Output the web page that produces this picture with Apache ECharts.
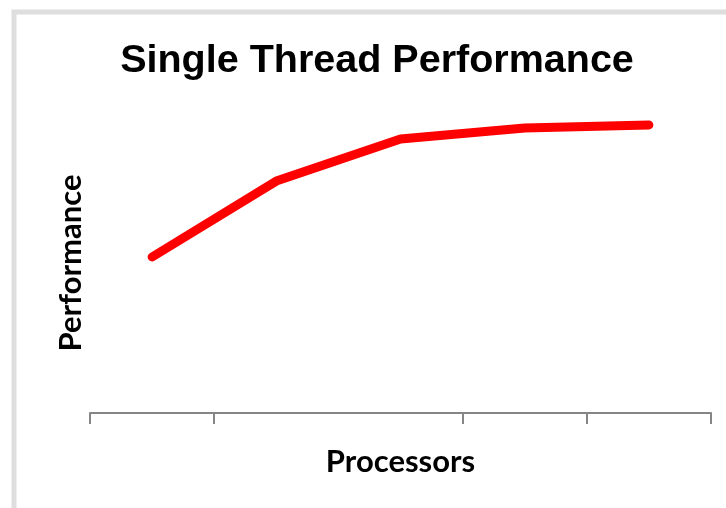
<!DOCTYPE html>
<html>
<head>
<meta charset="utf-8">
<script src="https://cdn.jsdelivr.net/npm/echarts@6/dist/echarts.min.js"></script>
<style>
html,body{margin:0;padding:0;background:#fff;}
#chart{width:726px;height:508px;}
</style>
</head>
<body>
<div id="chart"></div>
<script>
var categories = ['1', '2', '3', '4', '5'];
var performance = [52, 77.3, 91.3, 95, 96];
var tickPositions = [0, 1, 3, 4, 5];
var titleText = 'Single Thread Performance';
var xName = 'Processors';
var yName = 'Performance';

var seriesData = performance.map(function (v, i) { return [i + 0.5, v, categories[i]]; });

var chart = echarts.init(document.getElementById('chart'));
chart.setOption({
  animation: false,
  backgroundColor: '#ffffff',
  graphic: [{
    type: 'rect',
    shape: { x: 14, y: 12, width: 800, height: 600 },
    style: { fill: 'none', stroke: '#dedede', lineWidth: 5 },
    silent: true
  }],
  title: {
    text: titleText,
    left: 372,
    textAlign: 'center',
    top: 36,
    textStyle: { fontFamily: 'Liberation Sans', fontWeight: 'bold', fontSize: 39.5, color: '#000' }
  },
  grid: { left: 90, right: 15, top: 113, bottom: 95 },
  xAxis: {
    type: 'value',
    min: 0,
    max: categories.length,
    interval: 1,
    name: xName,
    nameLocation: 'middle',
    nameGap: 33,
    nameTextStyle: { fontFamily: 'Lato', fontWeight: 'bold', fontSize: 31, color: '#000' },
    axisLine: { show: true, lineStyle: { color: '#868686', width: 2 } },
    axisTick: {
      show: true,
      length: 11,
      customValues: tickPositions,
      lineStyle: { color: '#868686', width: 2 }
    },
    axisLabel: { show: false },
    splitLine: { show: false }
  },
  yAxis: {
    type: 'value',
    min: 0,
    max: 100,
    name: yName,
    nameLocation: 'middle',
    nameGap: 4,
    nameTextStyle: { fontFamily: 'Lato', fontWeight: 'bold', fontSize: 31, color: '#000' },
    axisLine: { show: false },
    axisTick: { show: false },
    axisLabel: { show: false },
    splitLine: { show: false }
  },
  series: [{
    type: 'line',
    data: seriesData,
    showSymbol: false,
    symbol: 'none',
    lineStyle: { color: '#ff0000', width: 9, cap: 'round', join: 'round' }
  }]
});
</script>
</body>
</html>
